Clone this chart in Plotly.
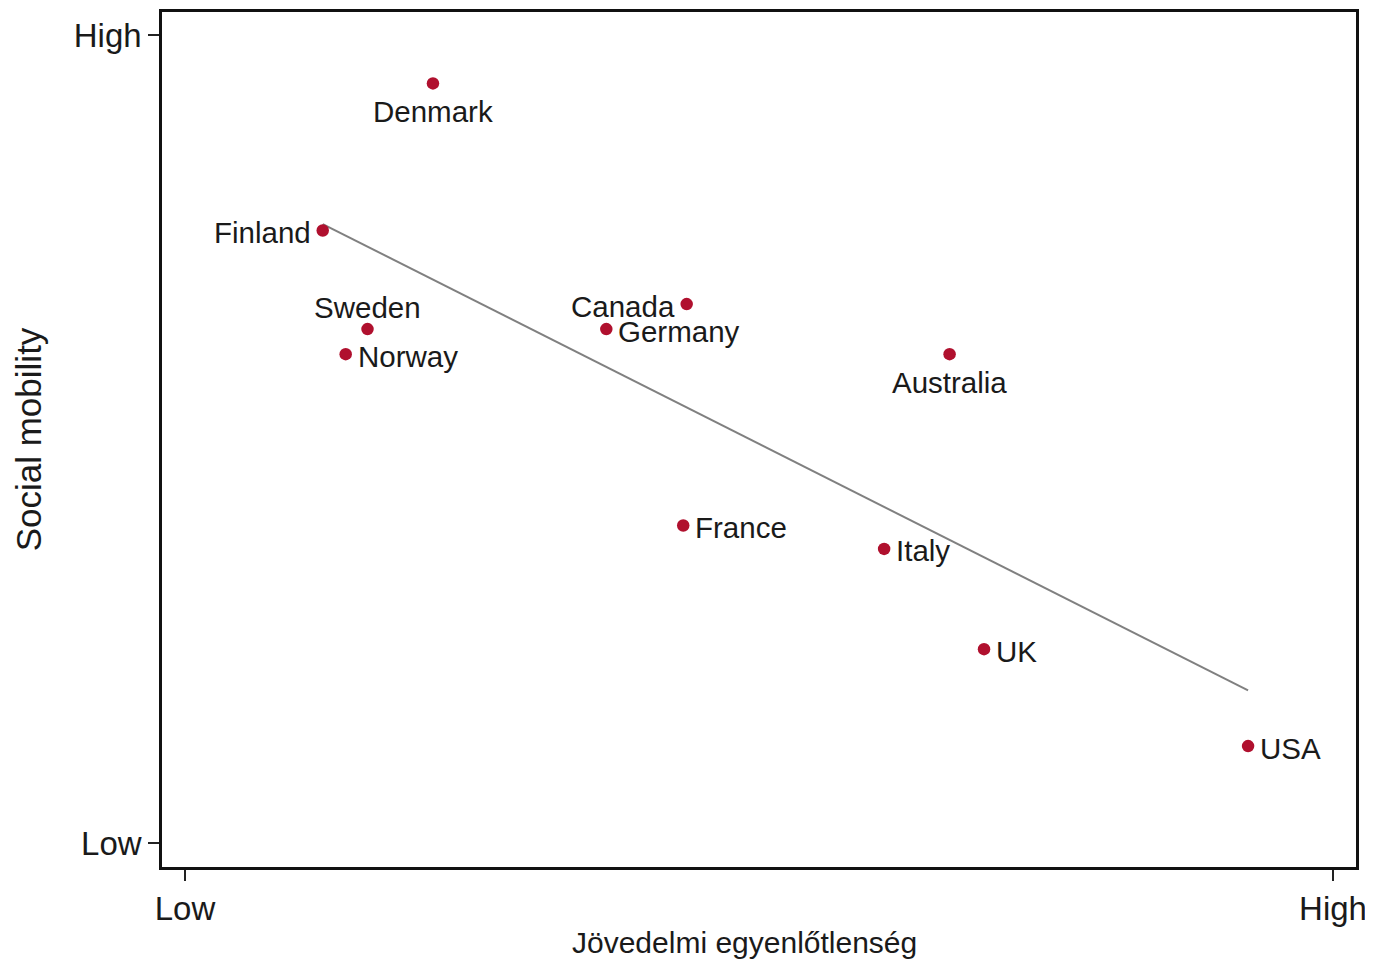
import plotly.graph_objects as go

countries = ["Denmark", "Finland", "Sweden", "Norway", "Canada", "Germany",
             "Australia", "France", "Italy", "UK", "USA"]
inequality = [0.216, 0.120, 0.159, 0.140, 0.437, 0.367, 0.666, 0.434, 0.609, 0.696, 0.926]
mobility = [0.940, 0.758, 0.636, 0.605, 0.667, 0.636, 0.605, 0.393, 0.364, 0.240, 0.120]
label_side = ["below", "left", "above", "right", "left", "right",
              "below", "right", "right", "right", "right"]

trend_x = [0.120, 0.926]
trend_y = [0.766, 0.189]

tick_vals = [0, 1]
tick_text = ["Low", "High"]

FONT = "Arial, Liberation Sans, sans-serif"
SIDE_STYLE = {
    "below": dict(xanchor="center", yanchor="middle", xshift=0, yshift=-28),
    "above": dict(xanchor="center", yanchor="middle", xshift=0, yshift=22),
    "left": dict(xanchor="right", yanchor="middle", xshift=-10, yshift=-2),
    "right": dict(xanchor="left", yanchor="middle", xshift=10, yshift=-2),
}

fig = go.Figure()
fig.add_trace(go.Scatter(
    x=trend_x, y=trend_y, mode="lines",
    line=dict(color="#808080", width=2), hoverinfo="skip", showlegend=False))
fig.add_trace(go.Scatter(
    x=inequality, y=mobility, mode="markers",
    marker=dict(color="#b0102e", size=12.5), showlegend=False))

for name, xv, yv, side in zip(countries, inequality, mobility, label_side):
    fig.add_annotation(x=xv, y=yv, text=name, showarrow=False,
                       font=dict(family=FONT, size=29.5, color="#1a1a1a"),
                       **SIDE_STYLE[side])

fig.add_annotation(xref="paper", yref="paper", x=0.488, y=0, yshift=-75,
                   xanchor="center", yanchor="middle", showarrow=False,
                   text="Jövedelmi egyenlőtlenség",
                   font=dict(family=FONT, size=30, color="#1a1a1a"))

fig.update_layout(
    width=1365, height=952,
    margin=dict(l=154, r=17, t=1, b=93),
    paper_bgcolor="white", plot_bgcolor="white",
    font=dict(family=FONT, color="#1a1a1a"),
    xaxis=dict(range=[-0.0200, 1.0200], tickvals=tick_vals, ticktext=tick_text,
               ticks="outside", ticklen=11, tickwidth=1.5, tickcolor="#222",
               tickfont=dict(size=33), showgrid=False, zeroline=False,
               showline=True, linecolor="#111", linewidth=2.5, mirror=True),
    yaxis=dict(range=[-0.0296, 1.0284], tickvals=tick_vals, ticktext=tick_text,
               ticks="outside", ticklen=11, tickwidth=1.5, tickcolor="#222",
               tickfont=dict(size=33), showgrid=False, zeroline=False,
               showline=True, linecolor="#111", linewidth=2.5, mirror=True,
               title=dict(text="Social mobility", font=dict(size=35), standoff=22)),
)

fig.write_html("out.html")
